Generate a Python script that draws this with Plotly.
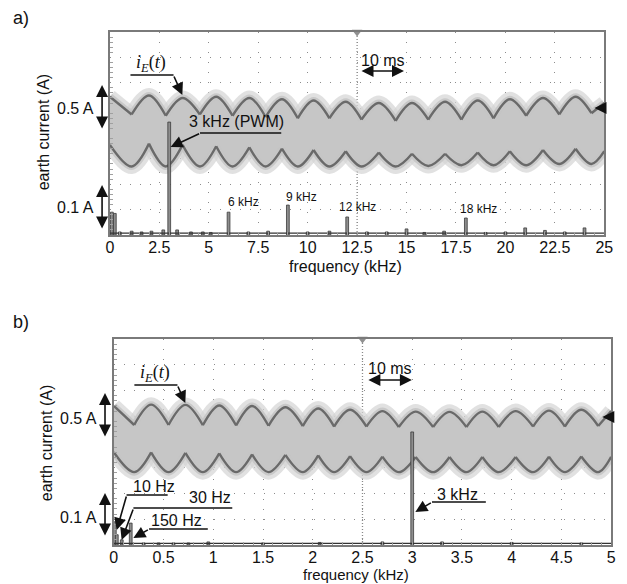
import plotly.graph_objects as go

# the page body adds an 8 px margin, so the figure is 8 px smaller and shifted
W_REF, H_REF = 627, 584
OFF = 8
W, H = W_REF - OFF, H_REF - OFF
SANS = "Liberation Sans, Arial, sans-serif"
SERIF = "Liberation Serif, Times New Roman, serif"

# ------------------------------------------------------------------ data
# x tick labels
ticks_a = [0, 2.5, 5, 7.5, 10, 12.5, 15, 17.5, 20, 22.5, 25]
ticks_a_text = ["0", "2.5", "5", "7.5", "10", "12.5", "15", "17.5", "20", "22.5", "25"]
ticks_b = [0, 0.5, 1, 1.5, 2, 2.5, 3, 3.5, 4, 4.5, 5]
ticks_b_text = ["0", "0.5", "1", "1.5", "2", "2.5", "3", "3.5", "4", "4.5", "5"]

# panel a spectrum (kHz, amplitude in screen divisions)
freq_a = [0.1, 0.25, 0.5, 1.1, 1.6, 2.1, 2.7, 3.0, 3.4, 4.1, 4.7, 5.1, 6.0, 7.0, 8.0,
          9.0, 10.0, 11.1, 12.0, 13.0, 14.0, 15.0, 15.9, 16.9, 18.0, 19.0, 20.0,
          21.0, 22.0, 23.0, 24.0]
amp_a = [0.9, 0.85, 0.12, 0.15, 0.12, 0.15, 0.2, 4.45, 0.2, 0.12, 0.12, 0.1, 0.9, 0.12, 0.15,
         1.18, 0.12, 0.15, 0.71, 0.12, 0.12, 0.24, 0.1, 0.15, 0.67, 0.1, 0.12,
         0.28, 0.18, 0.12, 0.28]
floor_a = 0.07

# panel b spectrum
freq_b = [0.01, 0.03, 0.08, 0.17, 0.3, 0.45, 0.6, 0.75, 0.95, 1.5, 2.07, 2.7, 3.0, 3.3, 4.0, 4.7]
amp_b = [0.9, 0.4, 0.2, 0.85, 0.08, 0.08, 0.08, 0.08, 0.12, 0.08, 0.1, 0.12, 4.39, 0.12, 0.1, 0.08]
floor_b = 0.06

# time-domain envelope of i_E(t), 10 ms/div (alternating arch peak / cusp)
t_a = [0, 4.4, 7.9, 11.3, 14.7, 18.2, 21.5, 24.8, 28.2, 31.5, 34.8, 38.0, 41.2, 44.4, 47.7,
       50.9, 54.4, 57.8, 61.1, 64.4, 67.8, 71.1, 74.4, 77.6, 80.9, 84.2, 87.6, 90.9, 94.2,
       97.4, 100]
upper_a = [5.45, 4.75, 5.5, 4.7, 5.4, 4.75, 5.45, 4.7, 5.4, 4.65, 5.35, 4.6, 5.3, 4.6, 5.25,
           4.55, 5.2, 4.5, 5.2, 4.55, 5.25, 4.55, 5.3, 4.6, 5.35, 4.7, 5.4, 4.75, 5.45,
           4.8, 5.2]
lower_a = [3.55, 2.7, 3.6, 2.7, 3.55, 2.7, 3.5, 2.7, 3.45, 2.7, 3.4, 2.7, 3.35, 2.7, 3.3,
           2.7, 3.25, 2.7, 3.2, 2.72, 3.2, 2.75, 3.25, 2.75, 3.3, 2.75, 3.35, 2.8, 3.4,
           2.8, 3.3]

t_b = [0, 4.1, 7.5, 11.0, 14.4, 17.9, 21.2, 24.6, 27.8, 31.1, 34.5, 38.0, 41.1, 44.3, 47.5,
       50.8, 54.0, 57.3, 60.7, 64.2, 67.5, 70.9, 74.1, 77.4, 80.8, 84.3, 87.5, 90.7, 94.0,
       97.4, 100]
upper_b = [5.4, 4.66, 5.45, 4.66, 5.44, 4.65, 5.42, 4.64, 5.4, 4.63, 5.35, 4.62, 5.3, 4.6, 5.25,
           4.6, 5.2, 4.58, 5.18, 4.58, 5.17, 4.58, 5.18, 4.58, 5.2, 4.6, 5.22, 4.6, 5.25,
           4.62, 5.2]
lower_b = [3.6, 2.83, 3.6, 2.83, 3.58, 2.83, 3.56, 2.83, 3.52, 2.83, 3.5, 2.83, 3.48, 2.83, 3.45,
           2.83, 3.43, 2.83, 3.42, 2.83, 3.42, 2.83, 3.42, 2.83, 3.42, 2.83, 3.43, 2.83, 3.44,
           2.83, 3.42]

# ------------------------------------------------------------------ layout helpers
def px(x):
    return (x - OFF) / W


def py(y):
    return 1 - (y - OFF) / H


DOM_A_X = [px(108), px(613)]
DOM_A_Y = [py(235), py(32)]
DOM_B_X = [px(112), px(620)]
DOM_B_Y = [py(545), py(339)]

GRID = "#8c8c8c"
FRAME = "#7a7a7a"
BAND = "#c6c6c6"
FUZZ_OUT = "rgba(212,212,212,0.7)"
FUZZ = "rgba(196,196,196,0.85)"
ENV = "#6a6a6a"


def arches(t, v, cusps):
    xs, ys = [], []
    bounds = sorted(set([0] + cusps + [len(t) - 1]))
    for a, b in zip(bounds[:-1], bounds[1:]):
        xs += t[a:b + 1] + [None]
        ys += v[a:b + 1] + [None]
    return xs, ys


fig = go.Figure()


def add_wave(t, up, lo, xa, ya):
    n = len(t)
    ux, uy = arches(t, up, list(range(1, n, 2)))
    lx, ly = arches(t, lo, list(range(0, n, 2)))
    for xs, ys in ((ux, uy), (lx, ly)):
        fig.add_trace(go.Scatter(x=xs, y=ys, mode="lines",
                                 line=dict(color=FUZZ_OUT, width=15, shape="spline", smoothing=1),
                                 xaxis=xa, yaxis=ya, hoverinfo="skip", showlegend=False,
                                 connectgaps=False))
    fig.add_trace(go.Scatter(
        x=t + t[::-1], y=up + lo[::-1], fill="toself", fillcolor=BAND,
        mode="lines", line=dict(width=0, shape="spline", smoothing=1),
        xaxis=xa, yaxis=ya, hoverinfo="skip", showlegend=False))
    for xs, ys in ((ux, uy), (lx, ly)):
        fig.add_trace(go.Scatter(x=xs, y=ys, mode="lines",
                                 line=dict(color=FUZZ, width=7, shape="spline", smoothing=1),
                                 xaxis=xa, yaxis=ya, hoverinfo="skip", showlegend=False,
                                 connectgaps=False))
    for xs, ys in ((ux, uy), (lx, ly)):
        fig.add_trace(go.Scatter(x=xs, y=ys, mode="lines",
                                 line=dict(color=ENV, width=2.4, shape="spline", smoothing=1),
                                 xaxis=xa, yaxis=ya, hoverinfo="skip", showlegend=False,
                                 connectgaps=False))


def add_spec(f, a, floor, rng, width, xa, ya):
    fig.add_trace(go.Scatter(x=rng, y=[floor, floor], mode="lines",
                             line=dict(color="#333333", width=1.3),
                             xaxis=xa, yaxis=ya, hoverinfo="skip", showlegend=False))
    fig.add_trace(go.Bar(x=f, y=a, width=width,
                         marker=dict(color="#8e8e8e", line=dict(color="#3a3a3a", width=0.8)),
                         xaxis=xa, yaxis=ya, hoverinfo="skip", showlegend=False))


# waveforms on time axes (base subplots), spectra on frequency axes (overlays, drawn on top)
add_wave(t_a, upper_a, lower_a, "x", "y")
add_wave(t_b, upper_b, lower_b, "x2", "y2")
add_spec(freq_a, amp_a, floor_a, [ticks_a[0], ticks_a[-1]], 0.14, "x3", "y")
add_spec(freq_b, amp_b, floor_b, [ticks_b[0], ticks_b[-1]], 0.028, "x4", "y2")

# trigger markers (top centre)
fig.add_trace(go.Scatter(x=[(ticks_a[0] + ticks_a[-1]) / 2], y=[8], mode="markers",
                         marker=dict(symbol="triangle-down", size=9, color="#909090"),
                         xaxis="x3", yaxis="y", cliponaxis=False, hoverinfo="skip",
                         showlegend=False))
fig.add_trace(go.Scatter(x=[(ticks_b[0] + ticks_b[-1]) / 2], y=[8], mode="markers",
                         marker=dict(symbol="triangle-down", size=9, color="#909090"),
                         xaxis="x4", yaxis="y2", cliponaxis=False, hoverinfo="skip",
                         showlegend=False))

time_ax = dict(range=[0, 100], visible=False, fixedrange=True)
yax = dict(range=[0, 8], dtick=1, showticklabels=False, showgrid=True, gridcolor=GRID,
           gridwidth=1.3, griddash="1px,9px", zeroline=False, showline=True, mirror=True,
           linecolor=FRAME, linewidth=2, ticks="inside", ticklen=0,
           minor=dict(dtick=0.2, ticks="inside", ticklen=3, tickcolor="#a0a0a0", tickwidth=1))


def freq_ax(tv, tt, overl, anchor):
    return dict(overlaying=overl, anchor=anchor, range=[tv[0], tv[-1]], tickvals=tv,
                ticktext=tt, showgrid=True, gridcolor=GRID, gridwidth=1.3, griddash="1px,9px",
                zeroline=False, showline=True, mirror=True, linecolor=FRAME, linewidth=2,
                ticks="inside", ticklen=0, ticklabelstandoff=-3,
                tickfont=dict(family=SANS, size=16, color="#111"),
                minor=dict(dtick=(tv[1] - tv[0]) / 5, ticks="inside", ticklen=3,
                           tickcolor="#a0a0a0", tickwidth=1))


fig.update_layout(
    width=W, height=H, margin=dict(l=0, r=0, t=0, b=0),
    paper_bgcolor="white", plot_bgcolor="white", barmode="overlay", showlegend=False,
    xaxis=dict(domain=DOM_A_X, anchor="y", **time_ax),
    yaxis=dict(domain=DOM_A_Y, anchor="x", **yax),
    xaxis2=dict(domain=DOM_B_X, anchor="y2", **time_ax),
    yaxis2=dict(domain=DOM_B_Y, anchor="x2", **yax),
    xaxis3=dict(domain=DOM_A_X, **freq_ax(ticks_a, ticks_a_text, "x", "y")),
    xaxis4=dict(domain=DOM_B_X, **freq_ax(ticks_b, ticks_b_text, "x2", "y2")),
    font=dict(family=SANS, size=16, color="#111"),
)

# centre cross-hair lines
for xa, ya, tv in (("x3", "y", ticks_a), ("x4", "y2", ticks_b)):
    mid = (tv[0] + tv[-1]) / 2
    fig.add_shape(type="line", xref=xa, yref=ya, x0=mid, x1=mid, y0=0, y1=8,
                  line=dict(color="#8a8a8a", width=1.3, dash="1px,2px"), layer="below")
    fig.add_shape(type="line", xref=xa, yref=ya, x0=tv[0], x1=tv[-1], y0=4, y1=4,
                  line=dict(color="#8a8a8a", width=1.3, dash="1px,4px"), layer="below")

ann = []
shapes = []


def text(x, y, s, size=16, family=SANS, xanchor="center", angle=0):
    ann.append(dict(x=px(x), y=py(y), xref="paper", yref="paper", text=s, showarrow=False,
                    xanchor=xanchor, yanchor="middle", textangle=angle,
                    font=dict(family=family, size=size, color="#111")))


def arrow(tip, tail, both=False, color="#111"):
    ann.append(dict(x=px(tip[0]), y=py(tip[1]), xref="paper", yref="paper", text="",
                    showarrow=True, ax=tail[0] - tip[0], ay=tail[1] - tip[1],
                    axref="pixel", ayref="pixel", arrowhead=2, arrowsize=1.5, arrowwidth=1.6,
                    arrowcolor=color, standoff=0, startstandoff=0,
                    arrowside="end+start" if both else "end"))


def line(p0, p1):
    shapes.append(dict(type="line", xref="paper", yref="paper", x0=px(p0[0]), y0=py(p0[1]),
                       x1=px(p1[0]), y1=py(p1[1]), line=dict(color="#111", width=1.5)))


IE = "<i>i</i><sub><i>E</i></sub>(<i>t</i>)"

# ---- panel a
text(17, 18, "a)", size=18)
text(40, 132, "earth current (A)", angle=-90)
text(94, 108, "0.5 A", xanchor="right")
text(94, 207, "0.1 A", xanchor="right")
arrow((100, 85), (100, 130), both=True)
arrow((100, 185), (100, 230), both=True)
text(349, 266, "frequency (kHz)")
text(150, 63, IE, size=18, family=SERIF)
line((129, 75), (173, 75))
arrow((182, 95), (173, 75))
text(237, 122, "3 kHz (PWM)")
line((200, 133), (283, 133))
arrow((170, 147), (200, 133))
text(244, 202, "6 kHz", size=12)
text(304, 197, "9 kHz", size=12)
text(361, 207, "12 kHz", size=12)
text(484, 209, "18 kHz", size=12)
text(387, 60, "10 ms")
arrow((365, 71), (409, 71), both=True)
arrow((603, 108), (613, 108))

# ---- panel b
text(17, 322, "b)", size=18)
text(43, 443, "earth current (A)", angle=-90)
text(97, 418, "0.5 A", xanchor="right")
text(97, 517, "0.1 A", xanchor="right")
arrow((103, 393), (103, 438), both=True)
arrow((103, 493), (103, 537), both=True)
text(359, 574, "frequency (kHz)", size=15)
text(154, 373, IE, size=18, family=SERIF)
line((133, 385), (177, 385))
arrow((185, 403), (177, 385))
text(153, 486, "10 Hz")
line((125, 495), (167, 495))
arrow((115, 530), (125, 495))
text(210, 497, "30 Hz")
line((132, 508), (233, 508))
arrow((120, 540), (132, 508))
text(176, 520, "150 Hz")
line((148, 529), (208, 529))
arrow((132, 538), (148, 529))
text(463, 494, "3 kHz")
line((437, 502), (492, 502))
arrow((420, 512), (437, 502))
text(394, 368, "10 ms")
arrow((372, 380), (417, 380), both=True)
arrow((611, 417), (620, 417))

fig.update_layout(annotations=ann, shapes=list(fig.layout.shapes) + shapes)
fig.write_html("out.html")
